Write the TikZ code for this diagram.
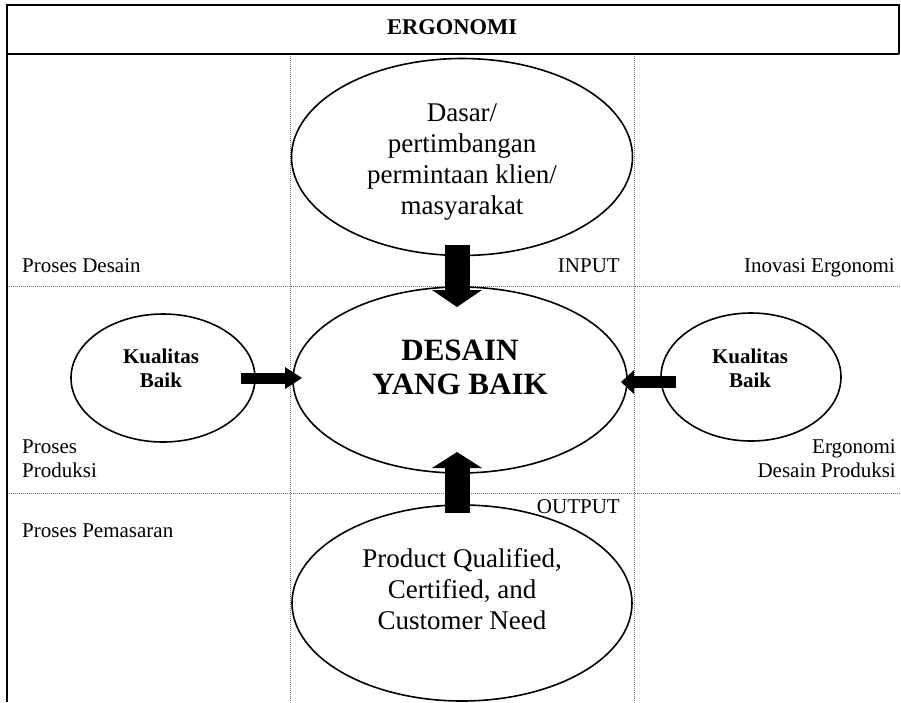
\documentclass[tikz,border=0pt]{standalone}
\usepackage{fontspec}
\setmainfont{Liberation Serif}
\usetikzlibrary{shapes.geometric,arrows.meta}
\newcommand{\elips}[5] {
    \node[oval,minimum width={#4},minimum height={#5}] (#1) at ({#2}, {#3}) {};
}
\newcommand{\panah}[4] {
    \draw[line width={#3},-{Triangle[length={#4},width={2*#3},line width=0pt]}] (#1) -- (#2);
}
\begin{document}
\begin{tikzpicture}[x=1pt,y=-1pt,
    oval/.style={ellipse,draw,line width=1.6pt,inner sep=0pt},
    garis/.style={black!55,dash pattern=on 1pt off 1pt,line width=1pt},
    bingkai/.style={line width=2.5pt},
    kecil/.style={font=\fontsize{21}{24}\selectfont,inner sep=0pt},
    tebal/.style={font=\bfseries\fontsize{21}{24}\selectfont,align=center,inner sep=0pt},
    isi/.style={font=\fontsize{27}{31}\selectfont,align=center,inner sep=0pt}]
    \useasboundingbox (0,0) rectangle (901,702);
    \foreach \x in {290,634}
        \draw[garis] (\x,54) -- (\x,702);
    \foreach \y in {286,493}
        \draw[garis] (7,\y) -- (901,\y);
    \draw[bingkai] (7,702) -- (7,5) -- (899,5) -- (899,54);
    \draw[bingkai] (7,54) -- (899,54);
    \node[tebal,font=\bfseries\fontsize{22.5}{25}\selectfont] (ergo) at (452,27) {ERGONOMI};
    \elips{dasar}{462}{157}{341}{197}
    \elips{desain}{460}{380}{334}{186}
    \elips{kiri}{163}{378}{184}{128}
    \elips{kanan}{751}{377}{180}{128}
    \elips{produk}{462}{603}{340}{196}
    \node[isi] (tdasar) at (462,162) {Dasar/\\pertimbangan\\permintaan klien/\\masyarakat};
    \node[isi,font=\bfseries\fontsize{31}{34}\selectfont] (tdesain) at (460,367) {DESAIN\\YANG BAIK};
    \node[tebal] (tkiri) at (161,368) {Kualitas\\Baik};
    \node[tebal] (tkanan) at (750,368) {Kualitas\\Baik};
    \node[isi] (tproduk) at (462,589) {Product Qualified,\\Certified, and\\Customer Need};
    \node[kecil,anchor=base west] (pdesain) at (22,272) {Proses Desain};
    \node[kecil,anchor=base east] (input) at (620,272) {INPUT};
    \node[kecil,anchor=base east] (inovasi) at (895,272) {Inovasi Ergonomi};
    \node[kecil,anchor=base west,align=left] (pproduksi) at (22,477) {Proses\\Produksi};
    \node[kecil,anchor=base east,align=right] (edp) at (896,477) {Ergonomi\\Desain Produksi};
    \node[kecil,anchor=base east] (output) at (620,513) {OUTPUT};
    \node[kecil,anchor=base west] (pemasaran) at (22,537) {Proses Pemasaran};
    \coordinate (a1) at (457,245);
    \coordinate (a2) at (457,307);
    \coordinate (b1) at (457,513);
    \coordinate (b2) at (457,452);
    \coordinate (c1) at (241,378);
    \coordinate (c2) at (302,378);
    \coordinate (d1) at (676,382);
    \coordinate (d2) at (621,382);
    \panah{a1}{a2}{25pt}{17pt}
    \panah{b1}{b2}{25pt}{16pt}
    \panah{c1}{c2}{11pt}{17pt}
    \panah{d1}{d2}{12pt}{13pt}
\end{tikzpicture}
\end{document}
